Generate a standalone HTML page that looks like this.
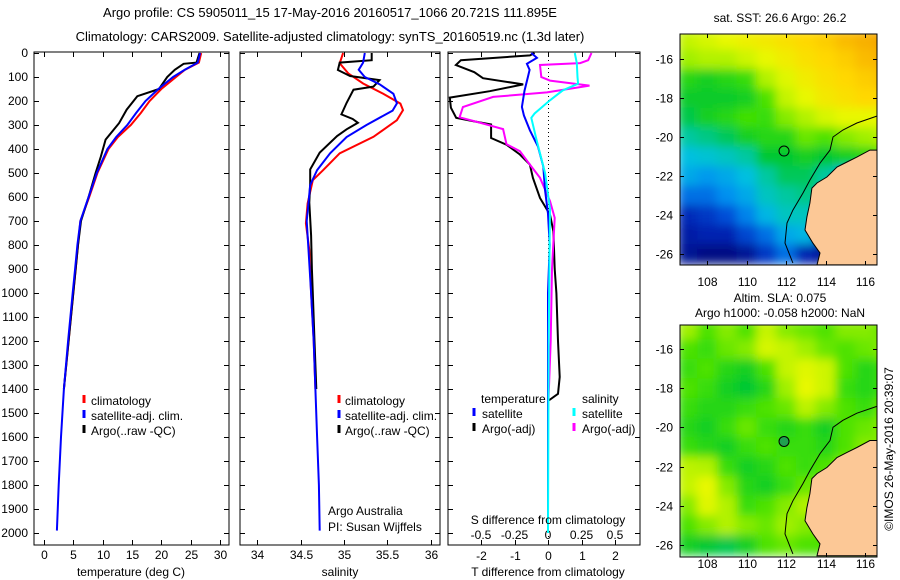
<!DOCTYPE html>
<html><head><meta charset="utf-8">
<style>
html,body{margin:0;padding:0;background:#fff;}
svg{display:block;font-family:"Liberation Sans",sans-serif;}
text{font-size:12px;fill:#000;}
</style></head>
<body>
<svg id="chart" width="900" height="580" viewBox="0 0 900 580" xmlns="http://www.w3.org/2000/svg">
<defs>
<filter id="blur" x="-5%" y="-5%" width="110%" height="110%"><feGaussianBlur stdDeviation="5" edgeMode="duplicate"/></filter>
</defs>
<text x="330" y="17" text-anchor="middle" style="font-size:13px">Argo profile: CS 5905011_15 17-May-2016 20160517_1066 20.721S 111.895E</text>
<text x="330" y="41" text-anchor="middle" style="font-size:13px">Climatology: CARS2009. Satellite-adjusted climatology: synTS_20160519.nc (1.3d later)</text>
<g id="root"></g>
</svg>
<script>
// ---------- data ----------
const depthTicks = [0,100,200,300,400,500,600,700,800,900,1000,1100,1200,1300,1400,1500,1600,1700,1800,1900,2000];
const tempTicks = [0,5,10,15,20,25,30];
const salTicks = [34,34.5,35,35.5,36];
const salTickLabels = ["34","34.5","35","35.5","36"];
const dTTicks = [-2,-1,0,1,2];
const dSTicks = [-0.5,-0.25,0,0.25,0.5];
const dSTickLabels = ["-0.5","-0.25","0","0.25","0.5"];

const tempClimDepth = [0,40,70,100,150,200,250,300,350,400,500,600,700,800,900,1000,1200,1400];
const tempClim = [26.8,26.4,24.0,22.5,20.0,18.0,16.5,14.8,12.6,11.0,9.1,7.7,6.2,5.8,5.4,5.0,4.2,3.4];
const tempSatDepth = [0,40,70,100,150,200,250,300,350,400,500,600,700,800,900,1000,1200,1400,1600,1800,1990];
const tempSat = [26.6,26.2,24.0,22.0,19.5,17.3,15.7,14.2,12.3,10.8,9.0,7.6,6.2,5.7,5.3,4.9,4.1,3.4,2.9,2.5,2.2];
const tempArgoDepth = [0,40,45,70,100,150,180,236,292,361,431,500,600,700,800,1000,1200,1400];
const tempArgo = [26.5,26.0,23.8,22.3,21.0,19.6,15.9,14.1,12.8,10.5,9.7,8.8,7.6,6.3,5.8,5.0,4.2,3.4];

const salClimDepth = [0,43,85,127,169,211,238,280,349,418,488,530,627,710,821,1000,1200,1400];
const salClim = [34.99,34.95,35.05,35.22,35.45,35.65,35.68,35.61,35.34,34.95,34.76,34.64,34.58,34.56,34.60,34.62,34.65,34.67];
const salSatDepth = [0,40,70,100,130,170,210,240,300,350,418,488,550,700,820,1000,1200,1400,1600,1800,1990];
const salSat = [35.24,35.22,35.17,35.24,35.41,35.57,35.61,35.56,35.26,35.03,34.84,34.69,34.61,34.57,34.59,34.62,34.65,34.67,34.69,34.71,34.72];
const salArgoDepth = [0,30,40,71,96,113,140,153,208,256,275,291,318,346,415,485,540,623,760,900,1000,1200,1400];
const salArgo = [35.32,35.32,34.95,34.93,35.07,35.41,35.34,35.11,35.03,34.97,35.10,35.16,35.03,34.92,34.72,34.61,34.61,34.60,34.62,34.63,34.64,34.66,34.68];

const dTSatDepth = [0,20,45,70,100,157,225,260,322,390,473,570,670,800,1000,2000];
const dTSat = [-0.5,-0.33,-0.63,-0.55,-0.6,-0.7,-0.78,-0.72,-0.54,-0.3,-0.14,-0.09,0,0.05,0,0];
const dTArgoDepth = [0,10,30,50,80,105,131,159,186,228,270,285,298,354,382,423,465,520,604,674,743,900,1000,1200,1350,1420,1450];
const dTArgo = [-0.4,-0.54,-2.6,-2.75,-2.2,-1.94,-0.74,-1.74,-2.93,-2.9,-2.74,-2.2,-1.7,-1.7,-1.24,-0.84,-0.54,-0.45,-0.24,0.06,0.16,0.2,0.25,0.3,0.35,0.3,0];
const dSSatDepth = [0,42,100,128,156,197,252,270,363,501,650,800,1200,2000];
const dSSat = [0.2,0.215,0.22,0.225,0.11,0.015,-0.1,-0.125,-0.085,-0.022,0.015,0.012,0.005,0];
const dSArgoDepth = [0,30,42,50,100,115,136,164,183,225,268,290,317,380,409,465,520,617,687,900,1200,1500,2000];
const dSArgo = [0.325,0.3,0.24,-0.06,-0.05,0.015,0.31,-0.008,-0.41,-0.635,-0.66,-0.51,-0.335,-0.31,-0.21,-0.135,-0.06,0.015,0.05,0.03,0.02,0,0];

// map data (lon/lat grid values, normalized colour index)
const mapLons = [107,108,109,110,111,112,113,114,115,116,117];
const mapLats = [-15,-16,-17,-18,-19,-20,-21,-22,-23,-24,-25,-26];
const sstGrid = [
[0.76,0.78,0.8,0.82,0.84,0.86,0.88,0.9,0.93,0.95,0.97],
[0.72,0.74,0.74,0.77,0.8,0.83,0.86,0.88,0.9,0.93,0.95],
[0.62,0.6,0.62,0.64,0.74,0.79,0.83,0.86,0.88,0.9,0.92],
[0.59,0.59,0.59,0.6,0.66,0.76,0.8,0.84,0.86,0.88,0.88],
[0.56,0.6,0.62,0.65,0.64,0.7,0.74,0.78,0.8,0.8,0.8],
[0.5,0.52,0.55,0.6,0.62,0.62,0.68,0.66,0.7,0.72,0.75],
[0.4,0.42,0.45,0.5,0.58,0.58,0.6,0.58,0.6,0.62,0.65],
[0.35,0.32,0.35,0.4,0.5,0.55,0.55,0.5,0.35,0.4,0.4],
[0.25,0.25,0.3,0.35,0.45,0.5,0.52,0.45,0.3,0.3,0.3],
[0.12,0.15,0.2,0.28,0.38,0.45,0.45,0.3,0.2,0.2,0.2],
[0.08,0.1,0.1,0.18,0.25,0.35,0.38,0.1,0.1,0.1,0.1],
[0.05,0.02,0.02,0.05,0.15,0.25,0.1,0.05,0.05,0.05,0.05]];
const slaGrid = [
[0.72,0.66,0.7,0.66,0.76,0.7,0.68,0.66,0.7,0.7,0.68],
[0.66,0.64,0.68,0.7,0.78,0.76,0.72,0.68,0.66,0.68,0.7],
[0.64,0.66,0.62,0.6,0.66,0.76,0.79,0.77,0.66,0.62,0.64],
[0.66,0.64,0.6,0.58,0.62,0.72,0.8,0.77,0.64,0.62,0.64],
[0.64,0.62,0.62,0.64,0.66,0.68,0.75,0.7,0.66,0.64,0.68],
[0.62,0.6,0.64,0.68,0.64,0.62,0.64,0.6,0.66,0.68,0.7],
[0.64,0.62,0.6,0.64,0.66,0.64,0.64,0.62,0.66,0.7,0.7],
[0.75,0.74,0.64,0.6,0.62,0.66,0.64,0.66,0.7,0.7,0.7],
[0.76,0.8,0.7,0.62,0.6,0.64,0.68,0.7,0.72,0.7,0.7],
[0.7,0.79,0.74,0.64,0.66,0.7,0.74,0.74,0.72,0.7,0.7],
[0.66,0.7,0.74,0.7,0.68,0.72,0.7,0.66,0.7,0.7,0.7],
[0.6,0.58,0.56,0.6,0.66,0.68,0.66,0.66,0.68,0.68,0.68]];
const coastLon = [116.6,116.25,115.59,115.09,114.58,114.07,113.57,113.31,113.21,113.06,112.96,113.36,113.72,113.57,116.6];
const coastLat = [-20.67,-20.67,-21.03,-21.28,-21.54,-22.05,-22.36,-22.62,-23.39,-24.1,-24.77,-25.44,-25.95,-26.56,-26.56];
const shelfLon = [116.6,115.59,114.88,114.38,114.23,113.72,113.21,112.86,112.35,112.05,111.95,112.35];
const shelfLat = [-18.93,-19.28,-19.64,-20.0,-20.67,-21.34,-22.21,-22.87,-23.75,-24.41,-25.44,-26.46];
const mapLonTicks = [108,110,112,114,116];
const mapLatTicks = [-16,-18,-20,-22,-24,-26];
const argoLon = 111.9, argoLat = -20.72;

// ---------- helpers ----------
const NS = "http://www.w3.org/2000/svg";
const root = document.getElementById('root');
function el(tag, attrs, parent, txt){
  const e = document.createElementNS(NS, tag);
  for (const k in attrs) e.setAttribute(k, attrs[k]);
  if (txt !== undefined) e.textContent = txt;
  (parent||root).appendChild(e);
  return e;
}
const Y0 = 53, Y1 = 533, FTOP = 52, FBOT = 545;
function yD(d){ return Y0 + d/2000*(Y1-Y0); }
function linMap(v0,v1,p0,p1){ return v => p0 + (v-v0)/(v1-v0)*(p1-p0); }

function frame(x0,x1,name){
  const r = el('rect',{x:x0,y:FTOP,width:x1-x0,height:FBOT-FTOP,fill:'none',stroke:'#000','stroke-width':1});
  
  
  for (const d of depthTicks){
    const y = Math.round(yD(d))+0.5;
    el('line',{x1:x0,x2:x0+5,y1:y,y2:y,stroke:'#000'});
    el('line',{x1:x1-5,x2:x1,y1:y,y2:y,stroke:'#000'});
  }
}
function xTicks(fx, ticks, labels, ly, name){
  ticks.forEach((t,i)=>{
    const x = Math.round(fx(t))+0.5;
    el('line',{x1:x,x2:x,y1:FTOP,y2:FTOP+5,stroke:'#000'});
    el('line',{x1:x,x2:x,y1:FBOT-5,y2:FBOT,stroke:'#000'});
    const tx = el('text',{x:x,y:ly,'text-anchor':'middle'},null,labels?labels[i]:String(t));
    
    
  });
}
function legendItem(mx, tx, y, color, label, name){
  el('line',{x1:mx,x2:mx,y1:y-7,y2:y+1,stroke:color,'stroke-width':3});
  const t = el('text',{x:tx,y:y+3},null,label);
  
  
}
function profG(g, depths, vals, fx, color, name){
  const pts = depths.map((d,i)=> fx(vals[i]).toFixed(1)+','+yD(d).toFixed(1)).join(' ');
  const p = el('polyline',{points:pts,fill:'none',stroke:color,'stroke-width':2},g);
  
  
}

// ---------- panel 1 : temperature ----------
const fT = linMap(0,30,44,220);
const clip1 = el('clipPath',{id:'c1'}); el('rect',{x:34,y:FTOP,width:195,height:FBOT-FTOP},clip1);
const clip2 = el('clipPath',{id:'c2'}); el('rect',{x:240,y:FTOP,width:200,height:FBOT-FTOP},clip2);
const clip3 = el('clipPath',{id:'c3'}); el('rect',{x:448,y:FTOP,width:192,height:FBOT-FTOP},clip3);
frame(34,229,'temperature-panel-frame');
depthTicks.forEach(d=>{
  const t = el('text',{x:28,y:yD(d)+4,'text-anchor':'end'},null,String(d));
  
  
});
xTicks(fT, tempTicks, null, 559, 'temperature-tick-label');
const g1 = el('g',{'clip-path':'url(#c1)'});
profG(g1, tempClimDepth, tempClim, fT, '#ff0000', 'temperature-climatology-line');
profG(g1, tempArgoDepth, tempArgo, fT, '#000000', 'temperature-argo-line');
profG(g1, tempSatDepth, tempSat, fT, '#0000ff', 'temperature-satellite-line');
legendItem(84,91,402,'#ff0000','climatology','legend-climatology');
legendItem(84,91,417,'#0000ff','satellite-adj. clim.','legend-satellite');
legendItem(84,91,432,'#000000','Argo(..raw -QC)','legend-argo');
let t1 = el('text',{x:131,y:576,'text-anchor':'middle'},null,'temperature (deg C)');



// ---------- panel 2 : salinity ----------
const fS = linMap(34,36,257.3,430.7);
frame(240,440,'salinity-panel-frame');
xTicks(fS, salTicks, salTickLabels, 559, 'salinity-tick-label');
const g2 = el('g',{'clip-path':'url(#c2)'});
profG(g2, salClimDepth, salClim, fS, '#ff0000', 'salinity-climatology-line');
profG(g2, salArgoDepth, salArgo, fS, '#000000', 'salinity-argo-line');
profG(g2, salSatDepth, salSat, fS, '#0000ff', 'salinity-satellite-line');
legendItem(339,345,402,'#ff0000','climatology','legend-climatology-2');
legendItem(339,345,417,'#0000ff','satellite-adj. clim.','legend-satellite-2');
legendItem(339,345,432,'#000000','Argo(..raw -QC)','legend-argo-2');
let t2 = el('text',{x:340,y:576,'text-anchor':'middle'},null,'salinity');


let t3 = el('text',{x:328,y:515},null,'Argo Australia');


let t4 = el('text',{x:328,y:531},null,'PI: Susan Wijffels');



// ---------- panel 3 : differences ----------
const fDT = linMap(-2,2,481,615);
const fDS = linMap(-0.5,0.5,481,615);
frame(448,640,'difference-panel-frame');
dTTicks.forEach(t=>{
  const x = Math.round(fDT(t))+0.5;
  el('line',{x1:x,x2:x,y1:FTOP,y2:FTOP+5,stroke:'#000'});
  el('line',{x1:x,x2:x,y1:FBOT-5,y2:FBOT,stroke:'#000'});
  const tx = el('text',{x:x,y:560,'text-anchor':'middle'},null,String(t));
  
  
});
dSTicks.forEach((t,i)=>{
  const tx = el('text',{x:fDS(t),y:539,'text-anchor':'middle'},null,dSTickLabels[i]);
  
  
});
const zl = el('line',{x1:fDT(0)+0.5,x2:fDT(0)+0.5,y1:FTOP,y2:FBOT,stroke:'#000','stroke-dasharray':'1,3'});


const g3 = el('g',{'clip-path':'url(#c3)'});
profG(g3, dTArgoDepth, dTArgo, fDT, '#000000', 't-diff-argo-line');
profG(g3, dSArgoDepth, dSArgo, fDS, '#ff00ff', 's-diff-argo-line');
profG(g3, dTSatDepth, dTSat, fDT, '#0000ff', 't-diff-satellite-line');
profG(g3, dSSatDepth, dSSat, fDS, '#00ffff', 's-diff-satellite-line');
let t5 = el('text',{x:481,y:403},null,'temperature');


let t6 = el('text',{x:582,y:403},null,'salinity');


legendItem(474,482,415,'#0000ff','satellite','legend-t-satellite');
legendItem(474,482,430,'#000000','Argo(-adj)','legend-t-argo');
legendItem(574,582,415,'#00ffff','satellite','legend-s-satellite');
legendItem(574,582,430,'#ff00ff','Argo(-adj)','legend-s-argo');
let t7 = el('text',{x:548,y:524,'text-anchor':'middle'},null,'S difference from climatology');


let t8 = el('text',{x:548,y:576,'text-anchor':'middle'},null,'T difference from climatology');



// ---------- maps ----------
const stops = [[0,[0,10,120]],[0.1,[0,32,176]],[0.2,[0,80,216]],[0.3,[0,144,240]],[0.4,[0,192,224]],[0.5,[0,200,160]],[0.58,[0,200,48]],[0.65,[64,224,0]],[0.72,[160,240,0]],[0.8,[232,248,0]],[0.88,[255,216,0]],[0.95,[248,176,0]],[1,[240,144,0]]];
function cmap(v){
  v=Math.max(0,Math.min(1,v));
  for(let i=1;i<stops.length;i++){
    if(v<=stops[i][0]){
      const a=stops[i-1],b=stops[i],f=(v-a[0])/(b[0]-a[0]);
      const c=a[1].map((x,j)=>Math.round(x+(b[1][j]-x)*f));
      return 'rgb('+c.join(',')+')';
    }
  }
  return 'rgb(240,144,0)';
}
function drawMap(top, bottom, latTopPx, grid, name, lonLabelY, clipId){
  const fx = linMap(108,116,707,865);
  const fy = linMap(-16,-26,latTopPx,latTopPx+(bottom-top)*(195/231));
  const cp = el('clipPath',{id:clipId}); el('rect',{x:680,y:top,width:197,height:bottom-top},cp);
  const g = el('g',{'clip-path':'url(#'+clipId+')'});
  
  
  const cg = el('g',{filter:'url(#blur)'},g);
  const cw = fx(1)-fx(0), ch = fy(-1)-fy(0);
  grid.forEach((row,r)=>row.forEach((v,c)=>{
    const x = fx(mapLons[c])-cw/2, y = fy(mapLats[r])-ch/2;
    const cell = el('rect',{x:x.toFixed(1),y:y.toFixed(1),width:(cw+0.6).toFixed(1),height:(ch+0.6).toFixed(1),fill:cmap(v)},cg);
    
    
  }));
  const land = el('polygon',{points:coastLon.map((l,i)=>fx(l).toFixed(1)+','+fy(coastLat[i]).toFixed(1)).join(' ')+' 880,'+(bottom+3)+' 880,'+fy(-20.67).toFixed(1),fill:'#fcc896',stroke:'#000','stroke-width':1},g);
  
  
  const sh = el('polyline',{points:shelfLon.map((l,i)=>fx(l).toFixed(1)+','+fy(shelfLat[i]).toFixed(1)).join(' '),fill:'none',stroke:'#000','stroke-width':1},g);
  
  
  const pt = el('circle',{cx:fx(argoLon),cy:fy(argoLat),r:5,fill:name==='sla-map'?'#20a050':'none',stroke:'#000','stroke-width':1});
  
  
  const fr = el('rect',{x:680,y:top,width:197,height:bottom-top,fill:'none',stroke:'#000'});
  
  
  mapLonTicks.forEach(l=>{
    const x=Math.round(fx(l))+0.5;
    el('line',{x1:x,x2:x,y1:top,y2:top+4,stroke:'#000'});
    el('line',{x1:x,x2:x,y1:bottom-4,y2:bottom,stroke:'#000'});
    const t=el('text',{x:x,y:lonLabelY,'text-anchor':'middle'},null,String(l));
    
    
  });
  mapLatTicks.forEach(l=>{
    const y=Math.round(fy(l))+0.5;
    el('line',{x1:680,x2:684,y1:y,y2:y,stroke:'#000'});
    el('line',{x1:873,x2:877,y1:y,y2:y,stroke:'#000'});
    const t=el('text',{x:673,y:y+4,'text-anchor':'end'},null,String(l));
    
    
  });
}
drawMap(34,265,59,sstGrid,'sst-map',286,'cm1');
drawMap(325,557,349,slaGrid,'sla-map',568,'cm2');
let m1 = el('text',{x:780,y:22,'text-anchor':'middle'},null,'sat. SST: 26.6 Argo: 26.2');


let m2 = el('text',{x:780,y:302,'text-anchor':'middle'},null,'Altim. SLA: 0.075');


let m3 = el('text',{x:780,y:317,'text-anchor':'middle'},null,'Argo h1000: -0.058 h2000: NaN');


let m4 = el('text',{x:0,y:0,'text-anchor':'middle',transform:'translate(893,449) rotate(-90)'},null,'©IMOS 26-May-2016 20:39:07');


</script>
</body></html>
